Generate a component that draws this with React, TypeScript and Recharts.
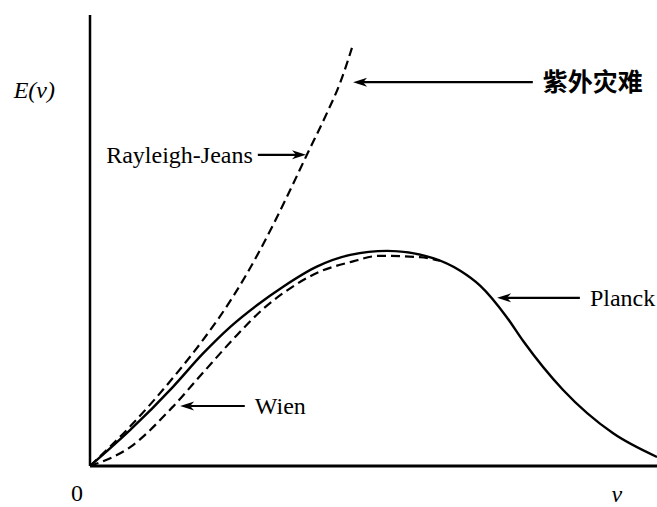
import React from 'react';
import { LineChart, Line, XAxis, YAxis, ReferenceLine, ReferenceDot } from 'recharts';

// frequency (nu) vs spectral energy E(nu), arbitrary units
const planck = [
  { x: 0, y: 0 },
  { x: 0.71, y: 0.8 },
  { x: 1.46, y: 1.75 },
  { x: 1.99, y: 2.49 },
  { x: 2.47, y: 3.08 },
  { x: 2.95, y: 3.57 },
  { x: 3.4, y: 3.97 },
  { x: 4.0, y: 4.42 },
  { x: 4.59, y: 4.68 },
  { x: 5.24, y: 4.77 },
  { x: 6.05, y: 4.61 },
  { x: 6.53, y: 4.33 },
  { x: 6.88, y: 4.0 },
  { x: 7.35, y: 3.3 },
  { x: 7.64, y: 2.77 },
  { x: 8.34, y: 1.69 },
  { x: 9.22, y: 0.73 },
  { x: 10, y: 0.2 },
];

const wien = [
  { x: 0, y: 0 },
  { x: 0.71, y: 0.42 },
  { x: 1.45, y: 1.3 },
  { x: 1.98, y: 2.05 },
  { x: 2.59, y: 2.9 },
  { x: 3.05, y: 3.48 },
  { x: 3.53, y: 3.94 },
  { x: 4.0, y: 4.28 },
  { x: 4.59, y: 4.52 },
  { x: 5.11, y: 4.66 },
  { x: 5.82, y: 4.63 },
  { x: 6.17, y: 4.55 },
];

const rayleighJeans = [
  { x: 0, y: 0 },
  { x: 0.71, y: 0.88 },
  { x: 1.46, y: 1.95 },
  { x: 1.99, y: 2.79 },
  { x: 2.52, y: 3.75 },
  { x: 3.0, y: 4.79 },
  { x: 3.47, y: 5.96 },
  { x: 3.84, y: 6.94 },
  { x: 4.18, y: 7.83 },
  { x: 4.41, y: 8.49 },
  { x: 4.62, y: 9.27 },
];

// annotations: text, arrow tail and arrow tip
const notes = [
  { text: '紫外灾难', from: { x: 7.81, y: 8.51 }, to: { x: 4.64, y: 8.51 }, cjk: true },
  { text: 'Rayleigh-Jeans', from: { x: 2.96, y: 6.9 }, to: { x: 3.81, y: 6.9 } },
  { text: 'Planck', from: { x: 8.64, y: 3.73 }, to: { x: 7.18, y: 3.73 } },
  { text: 'Wien', from: { x: 2.73, y: 1.33 }, to: { x: 1.59, y: 1.33 } },
];

const serif = '"Liberation Serif", "Times New Roman", serif';

function Arrow(props: any) {
  const { x1, y1, x2, y2, text, cjk } = props;
  const dx = x2 - x1;
  const dy = y2 - y1;
  const len = Math.sqrt(dx * dx + dy * dy) || 1;
  const ux = dx / len;
  const uy = dy / len;
  const nx = -uy;
  const ny = ux;
  const L = 14;
  const w = 4.5;
  const notch = 4;
  const bx = x2 - ux * L;
  const by = y2 - uy * L;
  const head = [
    [x2, y2],
    [bx + nx * w, by + ny * w],
    [x2 - ux * (L - notch), y2 - uy * (L - notch)],
    [bx - nx * w, by - ny * w],
  ]
    .map((p) => p.join(','))
    .join(' ');
  const pointsLeft = dx < 0;
  return (
    <g>
      <line
        x1={x1}
        y1={y1}
        x2={x2 - ux * (L - notch)}
        y2={y2 - uy * (L - notch)}
        stroke="#000"
        strokeWidth={2.2}
      />
      <polygon points={head} fill="#000" />
      <text
        x={pointsLeft ? x1 + 10 : x1 - 5}
        y={y1 + (cjk ? 9 : 8)}
        textAnchor={pointsLeft ? 'start' : 'end'}
        fontFamily={cjk ? '"Noto Sans CJK SC", sans-serif' : serif}
        fontWeight={cjk ? 700 : 400}
        fontSize={cjk ? 25 : 24}
        fill="#000"
      >
        {text}
      </text>
    </g>
  );
}

const TextMark = (label: string, dx: number, dy: number, italic = false, anchor = 'middle') =>
  (props: any) => (
    <text
      x={props.cx + dx}
      y={props.cy + dy}
      textAnchor={anchor}
      fontFamily={serif}
      fontStyle={italic ? 'italic' : 'normal'}
      fontSize={24}
      fill="#000"
    >
      {label}
    </text>
  );

export default function App() {
  return (
    <div style={{ position: 'absolute', left: 0, top: 0, background: '#fff' }}>
      <LineChart
        width={657}
        height={507}
        margin={{ top: 15, right: 0, bottom: 41, left: 90 }}
      >
        <XAxis type="number" dataKey="x" domain={[0, 10]} hide allowDataOverflow />
        <YAxis type="number" dataKey="y" domain={[0, 10]} hide allowDataOverflow />

        <ReferenceLine x={0} stroke="#000" strokeWidth={2.5} />
        <ReferenceLine y={0} stroke="#000" strokeWidth={3} />

        <Line
          data={rayleighJeans}
          dataKey="y"
          type="monotone"
          stroke="#000"
          strokeWidth={2.2}
          strokeDasharray="9 5"
          dot={false}
          isAnimationActive={false}
        />
        <Line
          data={wien}
          dataKey="y"
          type="monotone"
          stroke="#000"
          strokeWidth={2.2}
          strokeDasharray="9 5"
          dot={false}
          isAnimationActive={false}
        />
        <Line
          data={planck}
          dataKey="y"
          type="monotone"
          stroke="#000"
          strokeWidth={2.4}
          dot={false}
          isAnimationActive={false}
        />

        {notes.map((n) => (
          <ReferenceLine
            key={n.text}
            segment={[n.from, n.to]}
            ifOverflow="visible"
            shape={(p: any) => <Arrow {...p} text={n.text} cjk={n.cjk} />}
          />
        ))}

        <ReferenceDot x={0} y={0} r={0} ifOverflow="visible" shape={TextMark('0', -13, 35)} />
        <ReferenceDot x={9.29} y={0} r={0} ifOverflow="visible" shape={TextMark('ν', 0, 36, true)} />
        <ReferenceDot
          x={0}
          y={8.34}
          r={0}
          ifOverflow="visible"
          shape={TextMark('E(ν)', -35, 8, true, 'end')}
        />
      </LineChart>
    </div>
  );
}
